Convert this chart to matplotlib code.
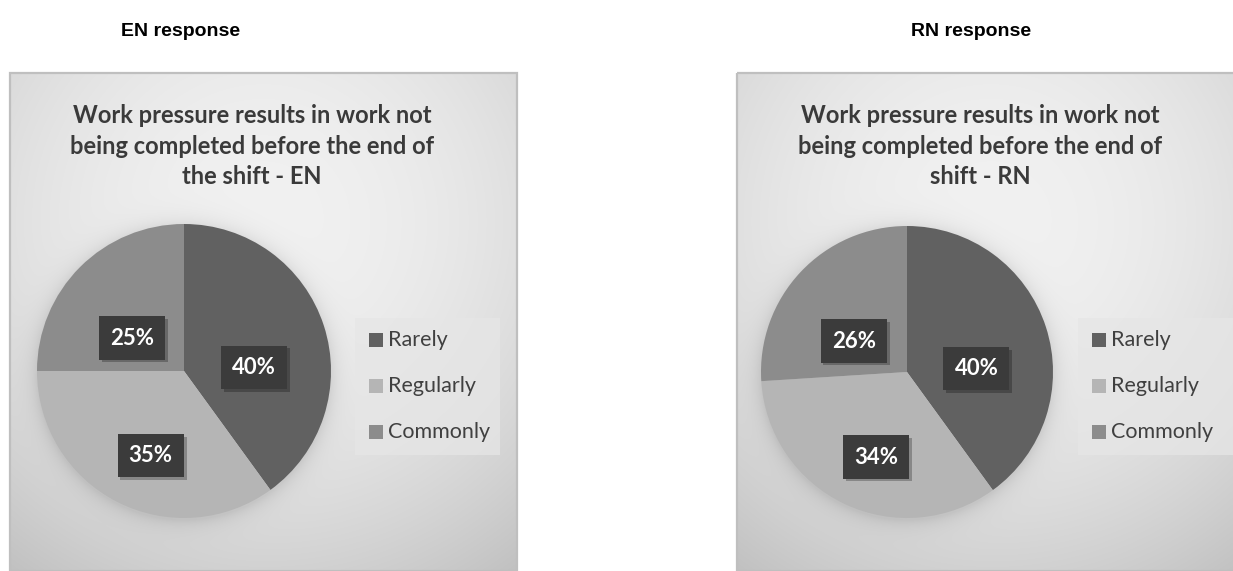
import numpy as np
import matplotlib
matplotlib.use("Agg")
import matplotlib.pyplot as plt
from matplotlib.patches import Rectangle
from matplotlib import patheffects

# ---- data -------------------------------------------------------------
categories = ["Rarely", "Regularly", "Commonly"]
en_values = [40, 35, 25]
rn_values = [40, 34, 26]
header_titles = ["EN response", "RN response"]
chart_titles = [
    "Work pressure results in work not\nbeing completed before the end of\nthe shift - EN",
    "Work pressure results in work not\nbeing completed before the end of\nshift - RN",
]
slice_colors = ["#616161", "#b5b5b5", "#8c8c8c"]

W, H = 1233, 571
fig = plt.figure(figsize=(W / 100, H / 100), dpi=100)
fig.patch.set_facecolor("white")

# full-figure axes working in pixel coordinates (y downwards)
bg = fig.add_axes([0, 0, 1, 1], zorder=0)
bg.set_xlim(0, W)
bg.set_ylim(H, 0)
bg.axis("off")

panels = [
    dict(box=(10, 73, 517, 571), center=(184, 371), r=147,
         legend=(355, 318, 500, 455), title_x=252, head_x=181),
    dict(box=(737, 73, 1245, 571), center=(907, 372), r=146,
         legend=(1078, 318, 1233, 455), title_x=980, head_x=971),
]

TITLE_FONT = "Lato"
HEAD_FONT = "Liberation Sans"


def panel_background(p):
    x0, y0, x1, y1 = p["box"]
    w, h = x1 - x0, y1 - y0
    xs = np.arange(w) + 0.5
    ys = np.arange(h) + 0.5
    X, Y = np.meshgrid(xs, ys)
    # radial light spot near the upper middle
    cx, cy = 0.5 * w, 0.30 * h
    d = np.hypot(X - cx, Y - cy) / 431.0
    v = 0.945 - 0.19 * d ** 2
    # soft shadow around the pie
    pcx, pcy = p["center"][0] - x0, p["center"][1] - y0
    dp = np.hypot(X - pcx, Y - pcy - 2) - p["r"]
    v = v - np.where(dp > 0, 0.09 * np.exp(-dp / 9.0), 0.09)
    v = np.clip(v, 0, 1)
    img = np.dstack([v, v, v])
    bg.imshow(img, extent=(x0, x1, y1, y0), interpolation="bilinear",
              aspect="auto", zorder=1)
    bg.add_patch(Rectangle((x0, y0), w, h, fill=False, ec="#bfbfbf",
                           lw=1.6, zorder=2))


for p, values, head, title in zip(panels, [en_values, rn_values],
                                  header_titles, chart_titles):
    panel_background(p)
    x0, y0, x1, y1 = p["box"]

    # heading above the panel
    bg.text(p["head_x"], 31, head, ha="center", va="center",
            fontsize=14, fontweight="bold", family=HEAD_FONT, color="black",
            zorder=5)
    # chart title inside the panel
    bg.text(p["title_x"], 146, title, ha="center", va="center",
            fontsize=17, fontweight="bold", family=TITLE_FONT,
            color="#3a3a3a", linespacing=1.38, zorder=5)

    # legend
    lx0, ly0, lx1, ly1 = p["legend"]
    bg.add_patch(Rectangle((lx0, ly0), lx1 - lx0, ly1 - ly0, fc="#e6e6e6",
                           ec="none", alpha=0.75, zorder=3))
    for i, (cat, col) in enumerate(zip(categories, slice_colors)):
        yc = ly0 + 22 + 46 * i
        bg.add_patch(Rectangle((lx0 + 14, yc - 7), 14, 14, fc=col,
                               ec="none", zorder=4))
        bg.text(lx0 + 33, yc, cat, ha="left", va="center", fontsize=15.5,
                family=TITLE_FONT, color="#404040", zorder=5)

    # pie
    cx, cy = p["center"]
    r = p["r"]
    ax = fig.add_axes([(cx - r) / W, 1 - (cy + r) / H, 2 * r / W, 2 * r / H],
                      zorder=1)
    wedges, _ = ax.pie(values, colors=slice_colors, startangle=90,
                       counterclock=False, radius=1.0,
                       wedgeprops=dict(linewidth=0))
    ax.set_xlim(-1, 1)
    ax.set_ylim(-1, 1)
    ax.set_aspect("equal")
    ax.axis("off")

    # percentage labels in dark boxes, hanging just below the anchor point
    for wdg, val in zip(wedges, values):
        mid = np.deg2rad(0.5 * (wdg.theta1 + wdg.theta2))
        rr = 0.5
        tx, ty = rr * np.cos(mid), rr * np.sin(mid)
        t = ax.annotate(f"{val}%", (tx, ty), xytext=(0, -19),
                        textcoords="offset pixels", ha="center", va="center",
                        fontsize=16, fontweight="bold", family=TITLE_FONT,
                        color="white",
                        bbox=dict(boxstyle="square,pad=0.5", fc="#3b3b3b",
                                  ec="none", lw=0),
                        zorder=4)
        t.get_bbox_patch().set_path_effects([
            patheffects.SimplePatchShadow(offset=(2, -2), alpha=0.25,
                                          shadow_rgbFace="black"),
            patheffects.Normal(),
        ])

fig.savefig("out.png", dpi=100, facecolor="white")
